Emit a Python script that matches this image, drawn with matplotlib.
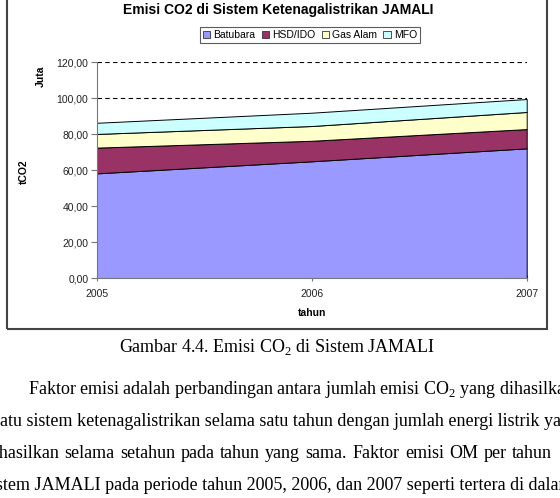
import matplotlib
matplotlib.use('Agg')
import matplotlib.pyplot as plt
from matplotlib.patches import Patch, Rectangle
from matplotlib.ticker import FuncFormatter

plt.rcParams['font.family'] = ['Liberation Sans', 'DejaVu Sans']
plt.rcParams['mathtext.fontset'] = 'custom'
plt.rcParams['mathtext.rm'] = 'Liberation Serif'

# data (millions of tCO2)
years = [2005, 2006, 2007]
batubara = [58.3, 65.0, 72.2]
hsd_ido = [14.3, 11.4, 10.7]
gas_alam = [7.6, 8.2, 9.5]
mfo = [6.2, 7.4, 7.2]

series_names = ['Batubara', 'HSD/IDO', 'Gas Alam', 'MFO']
series_colors = ['#9999ff', '#993366', '#ffffcc', '#ccffff']
y_ticks = [0, 20, 40, 60, 80, 100, 120]

fig = plt.figure(figsize=(5.6, 4.98), dpi=100)
fig.patch.set_facecolor('white')

# axes placed to match the pixel box of the original chart
ax = fig.add_axes([96.7 / 560, 1 - 278.3 / 498, 430 / 560, 216 / 498])
ax.stackplot(years, batubara, hsd_ido, gas_alam, mfo,
             colors=series_colors, edgecolor='black', linewidth=0.7, zorder=2)

ax.set_xlim(years[0], years[-1])
ax.set_ylim(0, 120)
ax.set_yticks(y_ticks)
ax.set_xticks(years)
ax.yaxis.set_major_formatter(FuncFormatter(lambda v, _: f'{v:.2f}'.replace('.', ',')))
ax.grid(axis='y', color='black', linestyle=(0, (4, 3)), linewidth=0.8, zorder=0)
ax.set_axisbelow(True)

for side in ['top', 'right']:
    ax.spines[side].set_visible(False)
for side in ['left', 'bottom']:
    ax.spines[side].set_color('#777777')
    ax.spines[side].set_linewidth(0.8)
ax.tick_params(axis='y', labelsize=7.5, colors='#777777', labelcolor='#222222',
               length=4, direction='out', pad=2)
ax.tick_params(axis='x', labelsize=7.5, colors='#777777', labelcolor='#222222',
               length=4, direction='inout', pad=6)

ax.set_xlabel('tahun', fontsize=7.5, fontweight='bold', labelpad=6)
fig.text(24 / 560, 1 - 172 / 498, 'tCO2', rotation=90, fontsize=7.5,
         fontweight='bold', ha='center', va='center')
fig.text(41 / 560, 1 - 76 / 498, 'Juta', rotation=90, fontsize=7.5,
         fontweight='bold', ha='center', va='center')

fig.text(278 / 560, 1 - 10 / 498, 'Emisi CO2 di Sistem Ketenagalistrikan JAMALI',
         fontsize=10, fontweight='bold', ha='center', va='center')

handles = [Patch(facecolor=c, edgecolor='#333333', linewidth=0.6) for c in series_colors]
leg = fig.legend(handles, series_names, loc='center', bbox_to_anchor=(310 / 560, 1 - 35 / 498),
                 ncol=4, fontsize=7.5, frameon=True, fancybox=False,
                 handlelength=0.7, handleheight=0.7, handletextpad=0.3,
                 columnspacing=0.6, borderpad=0.3)
leg.get_frame().set_edgecolor('#333333')
leg.get_frame().set_linewidth(0.8)

# border of the embedded chart
fig.add_artist(Rectangle((7 / 560, 1 - 329 / 498), 540 / 560, 329 / 498 + 0.05,
                         transform=fig.transFigure, fill=False,
                         edgecolor='#444444', linewidth=1.5))

# caption and body text of the page (the page is cropped at both sides)
serif = ['Liberation Serif', 'DejaVu Serif']
fig.text(277 / 560, 1 - 347 / 498, r'Gambar 4.4. Emisi CO$_2$ di Sistem JAMALI',
         fontsize=13, family=serif, ha='center', va='center')

body_lines = [
    (28, r'Faktor emisi adalah perbandingan antara jumlah emisi CO$_2$ yang dihasilkan oleh'),
    (-7, 'satu sistem ketenagalistrikan selama satu tahun dengan jumlah energi listrik yang'),
    (-15, 'dihasilkan selama setahun pada tahun yang sama. Faktor emisi OM per tahun'),
    (-16, 'sistem JAMALI pada periode tahun 2005, 2006, dan 2007 seperti tertera di dalam'),
]
body_y = [389, 421, 453, 485]
# right end (px) of the justified line, None = natural spacing
body_end = [None, None, 552, None]

renderer = fig.canvas.get_renderer()
for (x0, line), y0, x_end in zip(body_lines, body_y, body_end):
    if x_end is None:
        fig.text(x0 / 560, 1 - y0 / 498, line, fontsize=13, family=serif,
                 ha='left', va='center')
        continue
    # spread the words so the line is justified like the page
    words = line.split(' ')
    arts = [fig.text(0, 1 - y0 / 498, w, fontsize=13, family=serif,
                     ha='left', va='center') for w in words]
    widths = [a.get_window_extent(renderer).width for a in arts]
    gap = (x_end - x0 - sum(widths)) / (len(words) - 1)
    x = x0
    for a, w in zip(arts, widths):
        a.set_x(x / 560)
        x += w + gap

fig.savefig('out.png', dpi=100)
